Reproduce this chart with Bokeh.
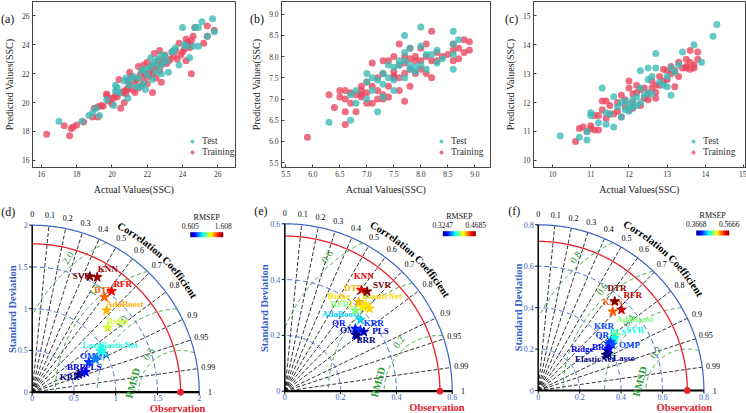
import numpy as np
from bokeh.plotting import figure
from bokeh.layouts import row, column
from bokeh.models import (ColumnDataSource, Range1d, Legend, LegendItem, LinearColorMapper,
                          FixedTicker, PrintfTickFormatter, Div)
from bokeh.core.properties import value
from bokeh.embed import file_html
from bokeh.resources import INLINE

FONT = "Liberation Serif"
TEST_C = "#3cbab6"
TRAIN_C = "#e9455e"
BLUE = "#3a63c8"
RED = "#e8202a"
GREEN = "#2b9a36"

a_train_x = [16.3,17.3,17.6,17.7,17.8,18.0,18.4,18.9,19.0,19.2,19.4,19.5,19.7,19.7,19.8,19.9,20.0,20.1,20.2,20.3,20.4,20.5,20.6,20.7,20.7,20.8,20.9,20.9,21.0,21.0,21.1,21.2,21.3,21.3,21.4,21.5,21.5,21.6,21.7,21.7,21.8,21.8,21.9,21.9,22.0,22.0,22.1,22.1,22.2,22.3,22.3,22.4,22.4,22.5,22.5,22.6,22.7,22.7,22.8,22.8,22.9,23.0,23.0,23.1,23.2,23.3,23.4,23.5,23.6,23.7,23.8,23.9,24.0,24.1,24.2,24.2,24.3,24.4,24.4,24.5,24.5,24.6,24.7,25.4,25.4,25.8,25.2,19.2,20.9]
a_train_y = [17.8,18.4,17.7,18.2,18.3,18.45,18.65,19.0,19.6,19.7,19.8,19.75,20.5,20.6,20.1,20.3,19.9,20.3,20.5,20.4,21.6,19.6,20.7,20.8,20.0,20.6,21.5,20.9,22.1,21.3,21.8,20.9,21.4,20.7,21.6,22.5,21.0,21.9,21.2,22.2,21.5,22.6,21.9,22.0,22.8,21.3,22.1,21.8,22.5,22.0,20.7,23.4,22.3,22.6,21.7,22.9,23.6,22.2,21.4,22.6,23.0,22.8,23.3,22.7,22.9,23.0,23.5,23.2,23.6,23.0,24.1,23.3,23.5,23.7,22.9,24.4,24.2,24.0,23.8,22.0,24.3,24.6,25.2,25.3,24.6,25.0,24.1,19.0,21.0]
a_test_x = [17.0,18.3,18.7,18.9,19.1,19.3,19.7,20.1,20.2,20.2,20.3,20.4,20.7,20.8,20.9,21.0,21.1,21.2,21.4,21.5,21.6,21.7,21.8,21.8,21.9,22.0,22.1,22.2,22.3,22.3,22.4,22.5,22.6,22.7,22.8,22.8,22.9,23.0,23.1,23.2,23.4,23.5,23.6,23.8,24.0,24.1,24.2,24.4,24.6,24.7,24.9,24.9,25.1,25.4,25.7,25.8]
a_test_y = [18.7,18.7,19.1,19.3,19.6,19.1,20.2,19.8,21.2,20.8,21.0,20.7,21.5,21.7,20.3,21.2,21.6,21.8,21.1,21.7,21.1,22.2,21.3,22.3,20.9,21.9,22.4,23.1,21.6,22.6,22.8,22.1,23.0,22.5,23.3,22.0,22.7,23.2,22.9,22.1,23.5,23.6,23.8,22.6,25.2,24.0,23.9,23.1,23.9,25.2,23.9,25.2,25.6,24.6,25.8,24.9]

b_train_x = [5.9,6.3,6.4,6.5,6.5,6.6,6.6,6.6,6.6,6.7,6.7,6.8,6.8,6.9,6.9,6.9,7.0,7.0,7.0,7.1,7.1,7.1,7.2,7.2,7.2,7.3,7.3,7.3,7.4,7.4,7.4,7.5,7.5,7.5,7.6,7.6,7.6,7.6,7.7,7.7,7.7,7.7,7.8,7.8,7.8,7.9,7.9,7.9,8.0,8.0,8.0,8.1,8.1,8.1,8.2,8.2,8.2,8.3,8.3,8.4,8.5,8.6,8.6,8.6,8.7,8.7,8.8,8.8,8.9,8.9,7.8,7.5,7.3,6.9]
b_train_y = [6.1,7.1,6.8,7.2,7.05,7.0,6.7,6.4,7.2,6.9,7.15,6.7,7.1,7.2,7.3,7.05,7.15,6.9,7.4,6.9,7.85,7.3,7.0,7.5,7.2,7.1,7.9,7.6,7.05,7.3,7.9,7.5,7.65,8.0,8.3,7.2,7.5,7.8,6.95,7.6,7.85,8.0,7.3,7.7,8.2,7.9,7.6,8.0,7.7,8.2,7.9,7.6,8.3,8.0,8.6,7.5,7.9,7.9,8.1,8.0,8.05,8.3,8.15,7.9,8.2,7.95,8.4,8.1,8.35,8.15,7.95,7.55,7.0,7.1]
b_test_x = [6.3,6.7,6.7,6.8,6.8,7.0,7.0,7.0,7.1,7.1,7.2,7.2,7.3,7.3,7.3,7.4,7.4,7.5,7.5,7.5,7.6,7.6,7.7,7.7,7.7,7.7,7.8,7.8,7.8,7.9,7.9,8.0,8.0,8.0,8.1,8.1,8.2,8.3,8.3,8.4,8.6,8.6,8.6,8.6,8.7]
b_test_y = [6.45,6.5,7.1,7.2,6.9,7.6,7.0,7.4,7.5,7.2,6.7,7.45,7.35,7.6,7.05,7.8,7.5,7.2,7.45,7.75,7.8,7.9,8.5,7.5,7.9,8.1,7.7,8.2,7.8,7.65,7.75,8.7,7.8,8.25,7.7,8.05,8.05,7.85,8.15,7.95,8.6,8.3,8.05,7.7,8.4]

c_train_x = [10.6,10.7,10.8,10.9,11.0,11.0,11.1,11.1,11.2,11.2,11.3,11.3,11.4,11.4,11.5,11.5,11.6,11.7,11.7,11.8,11.8,11.9,11.9,12.0,12.0,12.0,12.1,12.1,12.1,12.2,12.2,12.3,12.3,12.4,12.4,12.5,12.5,12.6,12.6,12.7,12.7,12.7,12.8,12.8,12.9,12.9,13.0,13.0,13.1,13.1,13.2,13.2,13.3,13.3,13.4,13.5,13.5,13.6,13.6,13.7,13.7,13.8,13.8,13.6,13.5]
c_train_y = [10.65,11.1,11.15,11.0,11.2,11.1,11.05,11.55,11.05,11.55,12.05,11.75,11.45,12.05,11.9,11.6,11.6,12.0,11.7,11.5,12.25,11.85,12.1,12.75,12.5,11.75,12.3,12.0,11.8,12.6,12.35,12.45,11.9,12.5,12.15,12.3,12.1,12.5,12.75,12.35,12.6,12.15,12.9,12.6,13.15,12.75,13.1,12.8,13.0,13.25,12.55,13.1,12.9,13.4,13.2,13.5,13.25,13.8,13.4,13.2,13.3,13.75,13.5,13.15,13.2]
c_test_x = [10.2,10.7,10.9,10.9,11.0,11.0,11.2,11.3,11.4,11.4,11.5,11.6,11.6,11.7,11.8,11.8,11.9,11.9,12.0,12.0,12.0,12.1,12.1,12.2,12.2,12.3,12.3,12.3,12.4,12.5,12.5,12.5,12.6,12.6,12.7,12.7,12.8,12.9,13.0,13.0,13.1,13.1,13.2,13.3,13.4,13.7,13.9,14.2,14.3]
c_test_y = [10.85,10.8,10.7,11.0,11.55,11.65,11.3,12.5,11.25,11.65,11.6,11.15,12.2,11.85,11.5,12.0,11.75,12.05,11.8,11.95,11.7,12.1,11.85,12.2,11.9,13.1,12.0,12.5,12.25,13.2,12.8,12.35,12.9,12.3,13.7,13.2,12.7,12.6,12.55,12.9,12.25,13.2,13.05,13.3,13.75,14.0,13.4,14.3,14.7]

a_xticks = [16, 18, 20, 22, 24, 26]
a_yticks = [16, 18, 20, 22, 24, 26]
b_xticks = [5.5, 6.0, 6.5, 7.0, 7.5, 8.0, 8.5, 9.0]
b_yticks = [5.5, 6.0, 6.5, 7.0, 7.5, 8.0, 8.5, 9.0]
c_xticks = [10, 11, 12, 13, 14, 15]
c_yticks = [10, 11, 12, 13, 14, 15]

corr_ticks = [0.0, 0.1, 0.2, 0.3, 0.4, 0.5, 0.6, 0.7, 0.8, 0.9, 0.95, 0.99, 1.0]
corr_tick_labels = ["0", "0.1", "0.2", "0.3", "0.4", "0.5", "0.6", "0.7", "0.8", "0.9", "0.95", "0.99", "1"]

d_models = ["KNN", "SVR", "RFR", "DTR", "AdaBoost", "Ridge", "Lasso", "ElasticNet", "OMP", "QR", "BRR", "PLS", "KRR"]
d_std = [1.582, 1.548, 1.538, 1.430, 1.323, 1.190, 0.954, 0.975, 0.768, 0.853, 0.640, 0.682, 0.597]
d_corr = [0.492, 0.446, 0.618, 0.606, 0.673, 0.761, 0.857, 0.859, 0.883, 0.888, 0.934, 0.936, 0.935]
d_rmsep = [1.578, 1.608, 1.488, 1.387, 1.307, 1.187, 1.006, 1.006, 0.786, 0.856, 0.705, 0.725, 0.605]
d_obs = 1.777
d_std_ticks = [0, 0.5, 1, 1.5, 2]
d_std_labels = ["0", "0.5", "1", "1.5", "2"]
d_rmsd = [0.5, 1.0, 1.5, 2.0]
d_rmsd_labels = ["0.5", "1.0", "1.5", "2.0"]

e_models = ["KNN", "SVR", "DTR", "Ridge", "Lasso", "ElasticNet", "RFR", "AdaBoost", "QR", "KRR", "OMP", "PLS", "BRR"]
e_std = [0.455, 0.463, 0.415, 0.424, 0.411, 0.424, 0.384, 0.373, 0.338, 0.348, 0.324, 0.354, 0.327]
e_corr = [0.604, 0.637, 0.639, 0.682, 0.681, 0.717, 0.659, 0.727, 0.749, 0.779, 0.781, 0.800, 0.792]
e_rmsep = [0.454, 0.4685, 0.425, 0.418, 0.417, 0.420, 0.397, 0.372, 0.346, 0.351, 0.333, 0.336, 0.3247]
e_obs = 0.556
e_std_ticks = [0, 0.2, 0.4, 0.6]
e_std_labels = ["0", "0.2", "0.4", "0.6"]
e_rmsd = [0.2, 0.4, 0.6]
e_rmsd_labels = ["0.2", "0.4", "0.6"]

f_models = ["DTR", "RFR", "KNN", "AdaBoost", "SVR", "PLS", "KRR", "QR", "OMP", "BRR", "Ridge", "Lasso", "ElasticNet"]
f_std = [0.567, 0.560, 0.524, 0.458, 0.447, 0.436, 0.420, 0.409, 0.420, 0.396, 0.385, 0.382, 0.370]
f_corr = [0.652, 0.718, 0.687, 0.814, 0.825, 0.826, 0.832, 0.835, 0.850, 0.861, 0.865, 0.886, 0.886]
f_rmsep = [0.5666, 0.553, 0.523, 0.467, 0.443, 0.447, 0.407, 0.403, 0.407, 0.391, 0.391, 0.371, 0.3668]
f_obs = 0.72
f_std_ticks = [0, 0.2, 0.4, 0.6, 0.8]
f_std_labels = ["0", "0.2", "0.4", "0.6", "0.8"]
f_rmsd = [0.2, 0.4, 0.6, 0.8]
f_rmsd_labels = ["0.2", "0.4", "0.6", "0.8"]

d_ldx = [10.6, -8, 11.3, -0.7, 18.3, 10, -7.3, 15.7, 1.7, 6.7, -5.7, 7.7, -9]
d_ldy = [-8.3, -1, -7.3, -7.3, -6.7, -6.3, -5.7, -6, -6, -4, -6, -5, 2.7]
e_ldx = [2.3, 15, -5, -26.7, -2.3, 12.7, -15.7, -20, -16.7, 13.3, -5, 16.7, 9]
e_ldy = [-14.3, -6.7, -14, -8.7, -3.3, -12.3, -6.7, -6, -6, -7.7, -4.3, -1, 4]
f_ldx = [2.3, 11.3, 0, 19.3, 20.3, 5, -6.7, -6.7, 17.3, -7.3, -25, 15.7, -11.3]
f_ldy = [-13.3, -14.3, -9.3, -16, -7.7, -7.7, -16.7, -9, 0.7, -1.7, -1, 4.3, 4]


def jet_palette(n=256):
    pal = []
    for i in range(n):
        t = i / (n - 1)
        r = min(max(1.5 - abs(4 * t - 3), 0), 1)
        g = min(max(1.5 - abs(4 * t - 2), 0), 1)
        b = min(max(1.5 - abs(4 * t - 1), 0), 1)
        pal.append("#%02x%02x%02x" % (int(r * 255), int(g * 255), int(b * 255)))
    return pal


JET = jet_palette()


def scatter_panel(trx, try_, tex, tey, xr, yr, xt, yt, fmt, w, h, bl, br):
    bt, bb = 1, 26
    p = figure(width=w, height=h, x_range=Range1d(*xr), y_range=Range1d(*yr),
               output_backend="svg", toolbar_location=None,
               min_border_left=bl, min_border_right=br, min_border_top=bt, min_border_bottom=bb)
    p.grid.visible = False
    p.border_fill_alpha = 0
    p.background_fill_alpha = 0
    p.outline_line_color = "#444"
    p.outline_line_width = 1
    n1 = min(len(trx), len(try_))
    n2 = min(len(tex), len(tey))
    r_tr = p.scatter(trx[:n1], try_[:n1], size=7, fill_color=TRAIN_C, fill_alpha=0.78, line_color=None)
    r_te = p.scatter(tex[:n2], tey[:n2], size=7, fill_color=TEST_C, fill_alpha=0.78, line_color=None)
    for ax in (p.xaxis[0], p.yaxis[0]):
        ax.axis_line_color = "#444"
        ax.major_tick_line_color = "#444"
        ax.major_tick_in = 3
        ax.major_tick_out = 0
        ax.minor_tick_line_color = None
        ax.major_label_text_font = FONT
        ax.major_label_text_font_size = "7.5px"
        ax.major_label_text_color = "#333"
        ax.major_label_standoff = 3
        ax.axis_label_text_font = FONT
        ax.axis_label_text_font_size = "10px"
        ax.axis_label_text_font_style = "normal"
        ax.axis_label_text_color = "#222"
        ax.axis_label_standoff = 4
    p.xaxis.axis_label = "Actual Values(SSC)"
    p.yaxis.axis_label = "Predicted Values(SSC)"
    p.xaxis.ticker = FixedTicker(ticks=xt)
    p.yaxis.ticker = FixedTicker(ticks=yt)
    if fmt:
        p.xaxis.formatter = PrintfTickFormatter(format=fmt)
        p.yaxis.formatter = PrintfTickFormatter(format=fmt)
    legend = Legend(items=[LegendItem(label="Test", renderers=[r_te]),
                           LegendItem(label="Training", renderers=[r_tr])],
                    location=(155, 10), border_line_color=None, background_fill_alpha=0,
                    padding=0, margin=0, spacing=1, glyph_width=10, glyph_height=10,
                    label_height=10, label_standoff=5, label_text_font=FONT,
                    label_text_font_size="9.5px", label_text_color="#333")
    p.add_layout(legend)
    return p


def taylor(tag, smax, sticks, slabels, obs, levels, level_labels, names, stds, corrs, rmseps,
           ldx, ldy, w, ox, oy, R, h=216):
    u = smax / R
    p = figure(width=w, height=h, x_range=Range1d(-ox * u, (w - ox) * u),
               y_range=Range1d(-oy * u, (h - oy) * u), x_axis_type=None, y_axis_type=None,
               min_border=0, output_backend="svg", toolbar_location=None)
    p.outline_line_color = None
    p.grid.visible = False
    th = np.linspace(0, np.pi / 2, 200)
    cl = [c for c in corr_ticks if 0 < c < 1]
    xs = [[0, smax * c] for c in cl]
    ys = [[0, smax * np.sqrt(1 - c * c)] for c in cl]
    p.multi_line(xs, ys, line_color="black", line_dash="4 2", line_width=0.8)
    for s in sticks[1:-1]:
        p.line(s * np.cos(th), s * np.sin(th), line_color=BLUE, line_dash="5 3", line_width=1)
    p.line(smax * np.cos(th), smax * np.sin(th), line_color=BLUE, line_width=1.2)
    ph = np.linspace(0, np.pi, 700)
    for r in levels:
        x = obs + r * np.cos(ph)
        y = r * np.sin(ph)
        m = (x >= 0) & (x * x + y * y <= smax * smax)
        p.line(np.where(m, x, np.nan), np.where(m, y, np.nan), line_color=GREEN,
               line_dash="4 3", line_width=1)
    p.line(obs * np.cos(th), obs * np.sin(th), line_color=RED, line_width=1.3)
    p.line([0, 0], [0, smax], line_color="black", line_width=1.5)
    p.line([0, smax], [0, 0], line_color="black", line_width=2.2)
    p.segment(x0=[-3 * u] * len(sticks), y0=sticks, x1=[0] * len(sticks), y1=sticks,
              line_color="black", line_width=1)
    p.segment(x0=sticks, y0=[-3 * u] * len(sticks), x1=sticks, y1=[0] * len(sticks),
              line_color="black", line_width=1)
    p.text(x=[-4.5 * u] * len(sticks), y=sticks, text=slabels, text_align="right",
           text_baseline="middle", text_color=BLUE, text_font=value(FONT), text_font_size="8px")
    p.text(x=sticks, y=[-3 * u] * len(sticks), text=slabels, text_align="center",
           text_baseline="top", text_color=BLUE, text_font=value(FONT), text_font_size="8px")
    ang = np.arccos(np.array(corr_ticks))
    rl = 1.065 * smax
    p.text(x=rl * np.cos(ang), y=rl * np.sin(ang), text=corr_tick_labels, text_align="center",
           text_baseline="middle", text_color="black", text_font=value(FONT), text_font_size="8px")
    word = "Correlation Coefficient"
    em = {"C": .722, "o": .5, "r": .444, "e": .444, "l": .278, "a": .5, "t": .333, "i": .278,
          "n": .556, " ": .25, "f": .333, "c": .444}
    fs = 10.5
    wid = [em[ch] * fs + 0.12 for ch in word]
    Rt = 188.0
    a0 = np.deg2rad(62.8)
    cum = np.cumsum([0] + wid[:-1])
    angs = a0 - (cum + np.array(wid) / 2) / Rt
    p.text(x=Rt * u * np.cos(angs), y=Rt * u * np.sin(angs), text=list(word), angle=angs - np.pi / 2,
           text_align="center", text_baseline="middle", text_color="black",
           text_font=value(FONT), text_font_style="bold", text_font_size=f"{fs}px")
    phl = np.deg2rad(130)
    lx, ly, lt = [], [], []
    for r, t in zip(levels, level_labels):
        rr = r + 0.05 * smax
        xx = obs + rr * np.cos(phl)
        yy = rr * np.sin(phl)
        if xx >= 0 and xx * xx + yy * yy <= smax * smax:
            lx.append(xx); ly.append(yy); lt.append(t)
    p.text(x=lx, y=ly, text=lt, angle=np.deg2rad(55), text_align="center", text_baseline="middle",
           text_color=GREEN, text_font=value(FONT), text_font_size="10px")
    rmin_px = min(levels) / u
    p.text(x=[obs - (rmin_px + 6) * u], y=[9 * u], text=["RMSD"], angle=np.deg2rad(75),
           text_align="center", text_baseline="middle", text_color=GREEN,
           text_font=value(FONT), text_font_style="bold", text_font_size="10.5px")
    mapper = LinearColorMapper(palette=JET, low=min(rmseps), high=max(rmseps))
    sx = [s * c for s, c in zip(stds, corrs)]
    sy = [s * np.sqrt(1 - c * c) for s, c in zip(stds, corrs)]
    src = ColumnDataSource(dict(x=sx, y=sy, name=names, rmsep=rmseps, dx=ldx, dy=ldy))
    p.text("x", "y", text="name", x_offset="dx", y_offset="dy", source=src,
           text_color={"field": "rmsep", "transform": mapper}, text_font=value(FONT),
           text_font_style="bold", text_font_size="9px", text_align="center",
           text_baseline="middle")
    p.scatter("x", "y", marker="star", size=10, source=src,
              fill_color={"field": "rmsep", "transform": mapper},
              line_color={"field": "rmsep", "transform": mapper})
    p.scatter([obs], [0], size=6, color=RED)
    p.text(x=[obs - 3 * u], y=[-16.6 * u], text=["Observation"], text_align="center",
           text_baseline="middle", text_color=RED, text_font=value(FONT),
           text_font_style="bold", text_font_size="10.5px")
    p.text(x=[-20 * u], y=[83 * u], text=["Standard Deviation"], angle=np.pi / 2,
           text_align="center", text_baseline="middle", text_color=BLUE, text_font=value(FONT),
           text_font_style="bold", text_font_size="10.5px")
    lo, hi = min(rmseps), max(rmseps)
    p.image(image=[np.linspace(lo, hi, 256).reshape(1, 256)], x=158 * u, y=155 * u,
            dw=33 * u, dh=5 * u, color_mapper=mapper)
    p.text(x=[158 * u, 191 * u], y=[166.5 * u] * 2, text=[f"{lo:g}", f"{hi:g}"],
           text_align="center", text_baseline="middle", text_color="#111",
           text_font=value(FONT), text_font_size="7.5px")
    p.text(x=[174.5 * u], y=[175 * u], text=["RMSEP"], text_align="center",
           text_baseline="middle", text_color="#111", text_font=value(FONT), text_font_size="8px")
    p.text(x=[-24 * u], y=[180 * u], text=[tag], text_align="center", text_baseline="middle",
           text_color="#111", text_font=value(FONT), text_font_size="12px")
    return p


TOP_H = 197
pa = scatter_panel(a_train_x, a_train_y, a_test_x, a_test_y, (15.5, 27), (15.5, 27),
                   a_xticks, a_yticks, None, 247, TOP_H, 28, 12)
pb = scatter_panel(b_train_x, b_train_y, b_test_x, b_test_y, (5.42, 9.29), (5.385, 9.3),
                   b_xticks, b_yticks, "%.1f", 247, TOP_H, 34, 4)
pc = scatter_panel(c_train_x, c_train_y, c_test_x, c_test_y, (9.5, 15.05), (9.75, 15.5),
                   c_xticks, c_yticks, None, 252, TOP_H, 39, 1)

pd_ = taylor("(d)", 2.0, d_std_ticks, d_std_labels, d_obs, d_rmsd, d_rmsd_labels,
             d_models, d_std, d_corr, d_rmsep, d_ldx, d_ldy, 247, 31.7, 21.3, 167.0)
pe = taylor("(e)", 0.6, e_std_ticks, e_std_labels, e_obs, e_rmsd, e_rmsd_labels,
            e_models, e_std, e_corr, e_rmsep, e_ldx, e_ldy, 247, 37.3, 22.3, 167.4)
pf = taylor("(f)", 0.8, f_std_ticks, f_std_labels, f_obs, f_rmsd, f_rmsd_labels,
            f_models, f_std, f_corr, f_rmsep, f_ldx, f_ldy, 252, 43.7, 23.0, 165.7)

# panel tags of the top row, laid over the figures' (transparent) left borders
span = ('<span style="position:absolute;top:0px;left:{}px;font-family:\'Liberation Serif\';'
        'font-size:12px;line-height:14px;color:#111;white-space:nowrap">{}</span>')
tags_html = ('<div style="position:relative;width:746px;height:0px;overflow:visible">'
             + span.format(1, "(a)") + span.format(250, "(b)") + span.format(505, "(c)")
             + '</div>')
tags = Div(text=tags_html, width=746, height=0, margin=0,
           styles={"overflow": "visible", "z-index": "10"})

layout = column(tags, row(pa, pb, pc), row(pd_, pe, pf))
open("out.html", "w").write(file_html(layout, INLINE))
